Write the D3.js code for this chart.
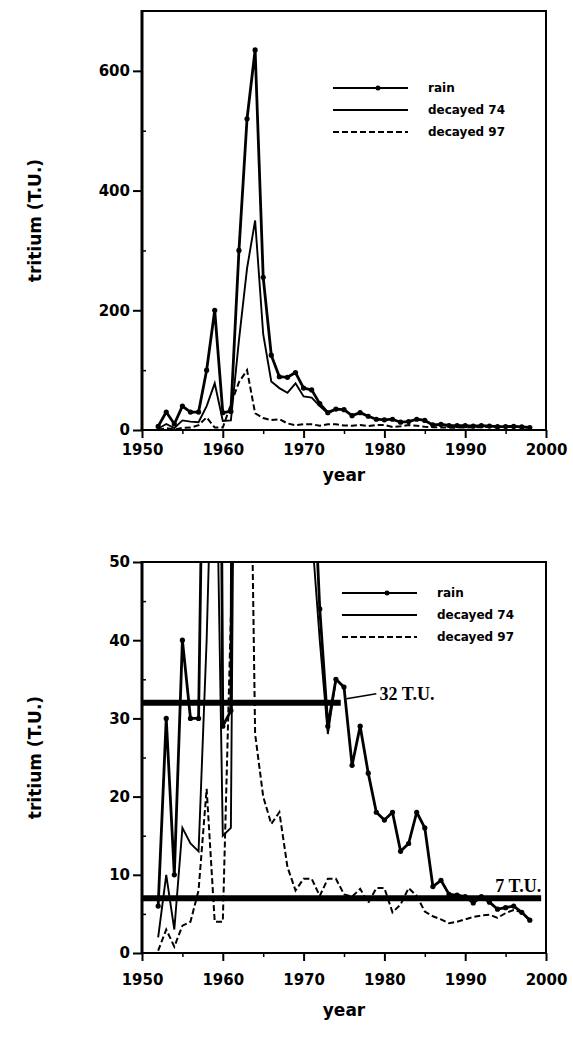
<!DOCTYPE html>
<html>
<head>
<meta charset="utf-8">
<script src="https://cdn.jsdelivr.net/npm/d3@7"></script>
<style>
  body { margin: 0; background: #fff; }
  svg { display: block; }
</style>
</head>
<body>
<svg id="chart" width="573" height="1052"></svg>
<script>
// Tritium in precipitation (T.U.), annual values
const years = d3.range(1952, 1999);
const rainTU = [
  6, 30, 10, 40, 30, 30, 100, 200, 29, 31,
  300, 520, 635, 255, 125, 89, 88, 96, 70, 67,
  44, 29, 35, 34, 24, 29, 23, 18, 17, 18,
  13, 14, 18, 16, 8.5, 9.3, 7.5, 7.4, 7.2, 6.4,
  7.2, 6.5, 5.6, 5.8, 6, 5.2, 4.2
];
// decayed to 1974
const decayed74Years = d3.range(1952, 1975);
const decayed74TU = [
  2, 10, 3, 16, 14, 13, 40, 78, 15, 16,
  150, 270, 350, 160, 81, 70, 62, 78, 56, 54,
  40, 28, 35
];
// decayed to 1997
const decayed97TU = [
  0.3, 3, 0.8, 3.5, 4, 8, 21, 4, 4, 43,
  80, 100, 28, 20, 16.5, 18, 11, 8, 9.5, 9.5,
  7.3, 9.5, 9.5, 7.5, 7.2, 8.2, 6.4, 8.3, 8.3, 5.2,
  6.2, 8.3, 7.3, 5.3, 4.7, 4.3, 3.8, 4, 4.3, 4.6,
  4.8, 4.9, 4.5, 5.1, 5.5, 5.2, 4.2
];

const xTickYears = [1950, 1960, 1970, 1980, 1990, 2000];
const xMinorYears = [1955, 1965, 1975, 1985, 1995];
const topYTicks = [0, 200, 400, 600];
const topYMinor = [100, 300, 500];
const bottomYTicks = [0, 10, 20, 30, 40, 50];
const bottomYMinor = [5, 15, 25, 35, 45];
const seriesNames = ["rain", "decayed 74", "decayed 97"];

// horizontal reference levels on the lower panel
const levelValues = [32, 7];
const levelLabels = ["32 T.U.", "7 T.U."];
const levelEndYear = [1974.6, 1999.4];

const svg = d3.select("#chart");
const tickFont = "'DejaVu Sans', Verdana, sans-serif";

const x = d3.scaleLinear().domain([1950, 2000]).range([142, 546]);

const rainPts = years.map((yr, i) => ({ year: yr, v: rainTU[i] }));
const d74Pts = decayed74Years.map((yr, i) => ({ year: yr, v: decayed74TU[i] }));
const d97Pts = years.map((yr, i) => ({ year: yr, v: decayed97TU[i] }));

function drawPanel(opts) {
  const y = d3.scaleLinear().domain(opts.domain).range([opts.bottom, opts.top]);
  const g = svg.append("g");

  const clipId = "clip-" + opts.id;
  svg.append("clipPath").attr("id", clipId)
    .append("rect")
    .attr("x", x(1950)).attr("y", opts.top)
    .attr("width", x(2000) - x(1950)).attr("height", opts.bottom - opts.top);

  const plot = g.append("g").attr("clip-path", `url(#${clipId})`);
  const line = d3.line().x(d => x(d.year)).y(d => y(d.v));

  // decayed 97 (dashed)
  plot.append("path").datum(d97Pts)
    .attr("d", line).attr("fill", "none")
    .attr("stroke", "#000").attr("stroke-width", 2)
    .attr("stroke-dasharray", "6,3");

  // decayed 74 (solid)
  plot.append("path").datum(d74Pts)
    .attr("d", line).attr("fill", "none")
    .attr("stroke", "#000").attr("stroke-width", 1.9);

  // rain (solid with markers)
  plot.append("path").datum(rainPts)
    .attr("d", line).attr("fill", "none")
    .attr("stroke", "#000").attr("stroke-width", 2.8)
    .attr("stroke-linejoin", "round");
  plot.selectAll("circle.rain").data(rainPts).join("circle")
    .attr("class", "rain")
    .attr("cx", d => x(d.year)).attr("cy", d => y(d.v))
    .attr("r", 2.6).attr("fill", "#000");

  if (opts.levels) {
    levelValues.forEach((lv, i) => {
      g.append("line")
        .attr("x1", x(1950)).attr("x2", x(levelEndYear[i]))
        .attr("y1", y(lv)).attr("y2", y(lv))
        .attr("stroke", "#000").attr("stroke-width", 6);
    });
    // leader and label for the upper level
    g.append("line")
      .attr("x1", x(1975.3)).attr("y1", y(levelValues[0]) - 4)
      .attr("x2", x(1979)).attr("y2", y(levelValues[0]) - 9)
      .attr("stroke", "#000").attr("stroke-width", 1.5);
    g.append("text")
      .attr("x", x(1979.4)).attr("y", y(levelValues[0]) - 3)
      .attr("font-family", "'Liberation Serif', 'Times New Roman', serif")
      .attr("font-weight", "bold").attr("font-size", 18)
      .text(levelLabels[0]);
    g.append("text")
      .attr("x", x(1999.4)).attr("y", y(levelValues[1]) - 6)
      .attr("text-anchor", "end")
      .attr("font-family", "'Liberation Serif', 'Times New Roman', serif")
      .attr("font-weight", "bold").attr("font-size", 18)
      .text(levelLabels[1]);
  }

  // frame
  g.append("rect")
    .attr("x", x(1950)).attr("y", opts.top)
    .attr("width", x(2000) - x(1950)).attr("height", opts.bottom - opts.top)
    .attr("fill", "none").attr("stroke", "#000").attr("stroke-width", 2);
  g.append("line")
    .attr("x1", x(1950)).attr("x2", x(1950))
    .attr("y1", opts.top - 1).attr("y2", opts.bottom + 1)
    .attr("stroke", "#000").attr("stroke-width", 3);

  // y axis: major ticks outward with labels, minor ticks inward
  const yAxis = g.append("g").attr("transform", `translate(${x(1950)},0)`)
    .call(d3.axisLeft(y).tickValues(opts.yTicks).tickSize(9).tickPadding(3)
      .tickFormat(d3.format("d")));
  yAxis.select(".domain").remove();
  yAxis.selectAll("line").attr("stroke-width", 2);
  yAxis.selectAll("text").attr("font-family", tickFont)
    .attr("font-weight", "bold").attr("font-size", 15).attr("fill", "#000");

  const yMinor = g.append("g").attr("transform", `translate(${x(1950)},0)`)
    .call(d3.axisRight(y).tickValues(opts.yMinor).tickSize(4).tickFormat(""));
  yMinor.select(".domain").remove();
  yMinor.selectAll("line").attr("stroke-width", 1.5);

  // x axis
  const xAxis = g.append("g").attr("transform", `translate(0,${opts.bottom})`)
    .call(d3.axisBottom(x).tickValues(xTickYears).tickSize(8).tickPadding(opts.xPad)
      .tickFormat(d3.format("d")));
  xAxis.select(".domain").remove();
  xAxis.selectAll("line").attr("stroke-width", 2);
  xAxis.selectAll("text").attr("font-family", tickFont)
    .attr("font-weight", "bold").attr("font-size", 15).attr("fill", "#000");

  const xMinor = g.append("g").attr("transform", `translate(0,${opts.bottom})`)
    .call(d3.axisBottom(x).tickValues(xMinorYears).tickSize(4).tickFormat(""));
  xMinor.select(".domain").remove();
  xMinor.selectAll("line").attr("stroke-width", 1.5);

  // axis titles
  g.append("text")
    .attr("x", (x(1950) + x(2000)) / 2).attr("y", opts.bottom + opts.titleGap)
    .attr("text-anchor", "middle")
    .attr("font-family", tickFont).attr("font-weight", "bold").attr("font-size", 17)
    .text("year");
  g.append("text")
    .attr("transform", `translate(41,${(opts.top + opts.bottom) / 2}) rotate(-90)`)
    .attr("text-anchor", "middle")
    .attr("font-family", tickFont).attr("font-weight", "bold").attr("font-size", 17)
    .text("tritium (T.U.)");

  // legend
  const lg = g.append("g");
  seriesNames.forEach((name, i) => {
    const ly = opts.legendY + i * 22;
    const ln = lg.append("line")
      .attr("x1", opts.legendX).attr("x2", opts.legendX + 75)
      .attr("y1", ly).attr("y2", ly)
      .attr("stroke", "#000").attr("stroke-width", 2);
    if (i === 2) ln.attr("stroke-dasharray", "6,3");
    if (i === 0) {
      lg.append("circle").attr("cx", opts.legendX + 45).attr("cy", ly)
        .attr("r", 2.5).attr("fill", "#000");
    }
    lg.append("text")
      .attr("x", opts.legendX + 95).attr("y", ly + 4)
      .attr("font-family", tickFont).attr("font-weight", "bold").attr("font-size", 12)
      .text(name);
  });
}

drawPanel({
  id: "top", domain: [0, 700], top: 11, bottom: 430,
  yTicks: topYTicks, yMinor: topYMinor, xPad: 6, titleGap: 51,
  legendX: 333, legendY: 88, levels: false
});

drawPanel({
  id: "bottom", domain: [0, 50], top: 562, bottom: 953,
  yTicks: bottomYTicks, yMinor: bottomYMinor, xPad: 13, titleGap: 63,
  legendX: 342, legendY: 593, levels: true
});
</script>
</body>
</html>
